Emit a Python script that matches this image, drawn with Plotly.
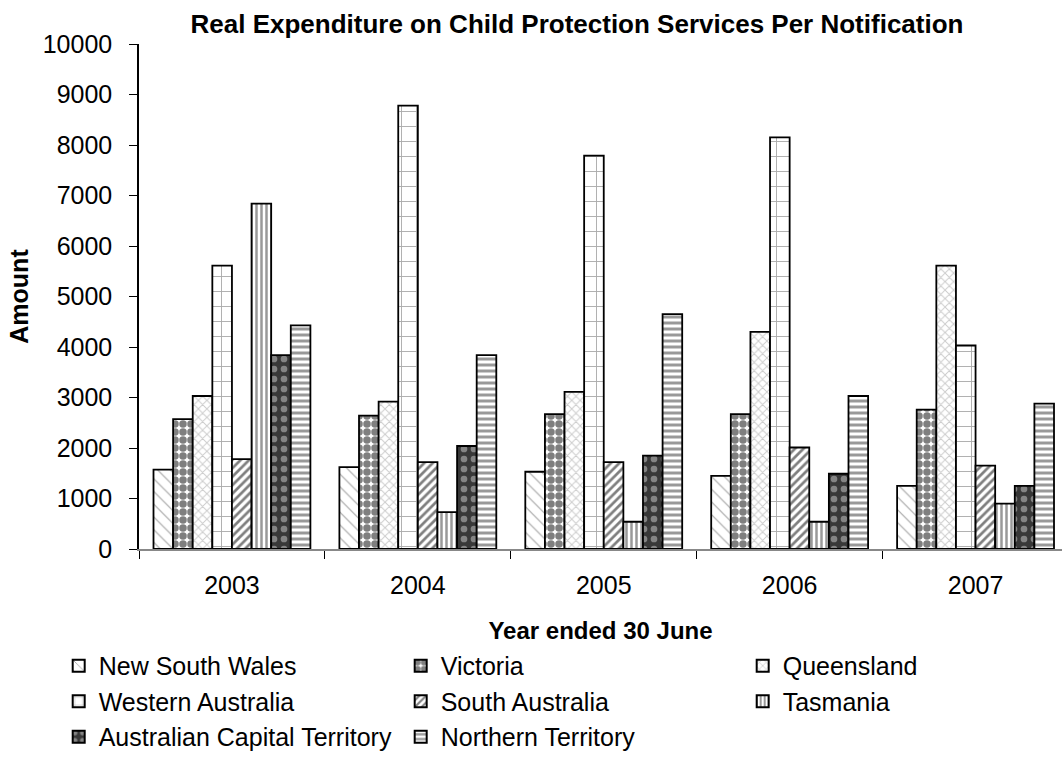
import plotly.graph_objects as go

years = ["2003", "2004", "2005", "2006", "2007"]
nsw = [1570, 1620, 1530, 1450, 1250]
vic = [2570, 2640, 2670, 2670, 2760]
qld = [3030, 2920, 3110, 4300, 5610]
wa = [5610, 8780, 7790, 8150, 4030]
sa = [1780, 1720, 1720, 2010, 1650]
tas = [6840, 730, 540, 540, 900]
act = [3840, 2040, 1850, 1490, 1250]
nt = [4430, 3840, 4650, 3030, 2880]

series = [
    ("New South Wales", nsw, dict(shape="\\", fgcolor="#444", bgcolor="white", size=9, solidity=0.12)),
    ("Victoria", vic, dict(shape=".", fgcolor="black", bgcolor="white", size=8, solidity=0.7)),
    ("Queensland", qld, dict(shape="x", fgcolor="#999", bgcolor="white", size=6, solidity=0.3)),
    ("Western Australia", wa, dict(shape="+", fgcolor="#555", bgcolor="white", size=15, solidity=0.12)),
    ("South Australia", sa, dict(shape="/", fgcolor="black", bgcolor="white", size=6, solidity=0.45)),
    ("Tasmania", tas, dict(shape="|", fgcolor="#333", bgcolor="white", size=5, solidity=0.5)),
    ("Australian Capital Territory", act, dict(shape=".", fgcolor="#d0d0d0", bgcolor="#383838", size=10, solidity=0.35)),
    ("Northern Territory", nt, dict(shape="-", fgcolor="#333", bgcolor="white", size=6, solidity=0.5)),
]

fig = go.Figure()
for name, vals, pat in series:
    fig.add_trace(go.Bar(
        name=name, x=years, y=vals,
        marker=dict(color="white", line=dict(color="black", width=1.8), pattern=pat),
    ))

FONT = "Liberation Sans, Arial, sans-serif"
fig.update_layout(
    width=1062, height=767,
    margin=dict(l=138.5, r=0, t=44, b=217.7, autoexpand=False),
    paper_bgcolor="white", plot_bgcolor="white",
    barmode="group", bargap=0.156, bargroupgap=0,
    font=dict(family=FONT, size=25, color="black"),
    title=dict(text="<b>Real Expenditure on Child Protection Services Per Notification</b>",
               x=0.5433, xanchor="center", xref="container",
               y=1 - 24 / 767, yanchor="middle", yref="container",
               font=dict(size=26, family=FONT, color="black")),
    xaxis=dict(type="category", range=[-0.5, 4.465], showline=True, linecolor="#888", linewidth=1.5,
               ticks="outside", tickson="boundaries", ticklen=8, tickcolor="black",
               tickfont=dict(size=25), showgrid=False, zeroline=False, ticklabelstandoff=13,
               title=dict(text="<b>Year ended 30 June</b>", font=dict(size=24), standoff=24)),
    yaxis=dict(range=[0, 10000], dtick=1000, tickformat="d", showline=True, linecolor="black", linewidth=1.5,
               ticks="outside", ticklen=8, tickcolor="black", tickfont=dict(size=25),
               ticklabelstandoff=12, showgrid=False, zeroline=False,
               title=dict(text="<b>Amount</b>", font=dict(size=25), standoff=7)),
    legend=dict(orientation="h", x=-0.087, xanchor="left", y=-0.186, yanchor="top",
                entrywidth=297, entrywidthmode="pixels", traceorder="normal",
                font=dict(size=25), itemsizing="constant"),
)

fig.write_html("out.html")
